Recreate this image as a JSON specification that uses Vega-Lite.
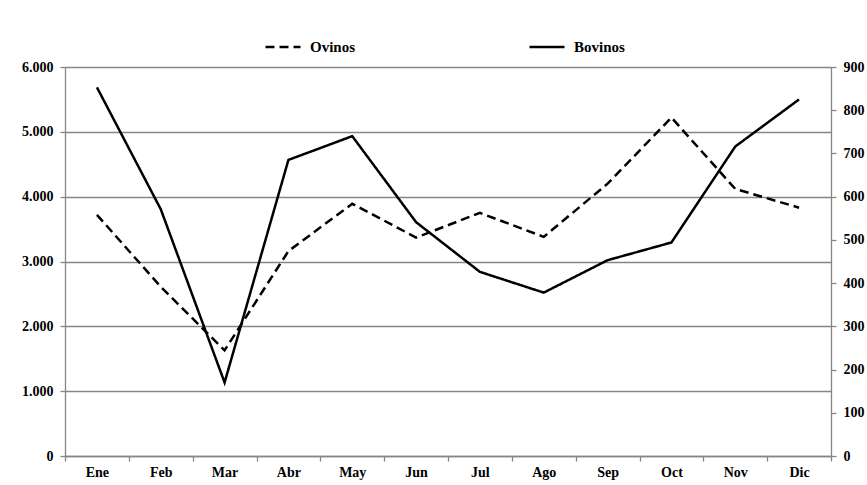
{
  "$schema": "https://vega.github.io/schema/vega-lite/v6.json",
  "width": 766,
  "height": 389,
  "autosize": {"type": "none"},
  "padding": {"left": 65, "top": 67, "right": 36, "bottom": 29},
  "background": "white",
  "config": {
    "view": {"stroke": null},
    "font": "'Liberation Serif', serif",
    "axis": {
      "labelFont": "'Liberation Serif', serif",
      "labelFontWeight": "bold",
      "labelFontSize": 14,
      "labelColor": "black",
      "domainColor": "#868686",
      "tickColor": "#868686",
      "gridColor": "#868686",
      "domainWidth": 1.3,
      "tickWidth": 1.3,
      "gridWidth": 1.3,
      "tickSize": 5,
      "title": null
    }
  },
  "data": {
    "values": [
      {"mes": "Ene", "serie": "Ovinos", "valor": 3720},
      {"mes": "Feb", "serie": "Ovinos", "valor": 2610},
      {"mes": "Mar", "serie": "Ovinos", "valor": 1630},
      {"mes": "Abr", "serie": "Ovinos", "valor": 3160},
      {"mes": "May", "serie": "Ovinos", "valor": 3890},
      {"mes": "Jun", "serie": "Ovinos", "valor": 3370},
      {"mes": "Jul", "serie": "Ovinos", "valor": 3750},
      {"mes": "Ago", "serie": "Ovinos", "valor": 3380},
      {"mes": "Sep", "serie": "Ovinos", "valor": 4200},
      {"mes": "Oct", "serie": "Ovinos", "valor": 5220},
      {"mes": "Nov", "serie": "Ovinos", "valor": 4120},
      {"mes": "Dic", "serie": "Ovinos", "valor": 3830},
      {"mes": "Ene", "serie": "Bovinos", "valor": 853},
      {"mes": "Feb", "serie": "Bovinos", "valor": 571},
      {"mes": "Mar", "serie": "Bovinos", "valor": 170},
      {"mes": "Abr", "serie": "Bovinos", "valor": 685},
      {"mes": "May", "serie": "Bovinos", "valor": 740},
      {"mes": "Jun", "serie": "Bovinos", "valor": 541},
      {"mes": "Jul", "serie": "Bovinos", "valor": 426},
      {"mes": "Ago", "serie": "Bovinos", "valor": 378},
      {"mes": "Sep", "serie": "Bovinos", "valor": 453},
      {"mes": "Oct", "serie": "Bovinos", "valor": 494},
      {"mes": "Nov", "serie": "Bovinos", "valor": 716},
      {"mes": "Dic", "serie": "Bovinos", "valor": 825}
    ]
  },
  "encoding": {
    "x": {
      "field": "mes",
      "type": "ordinal",
      "sort": ["Ene", "Feb", "Mar", "Abr", "May", "Jun", "Jul", "Ago", "Sep", "Oct", "Nov", "Dic"],
      "bandPosition": 0.5,
      "scale": {"type": "band", "paddingInner": 0, "paddingOuter": 0},
      "axis": {"labelAngle": 0, "tickBand": "extent", "labelPadding": 4, "grid": false}
    },
    "strokeDash": {
      "field": "serie",
      "type": "nominal",
      "scale": {"domain": ["Ovinos", "Bovinos"], "range": [[9, 5], [1, 0]]},
      "legend": {
        "orient": "none",
        "legendX": 199,
        "legendY": -39,
        "direction": "horizontal",
        "title": null,
        "symbolType": "stroke",
        "symbolSize": 1225,
        "symbolStrokeWidth": 2.5,
        "symbolStrokeColor": "black",
        "labelFont": "'Liberation Serif', serif",
        "labelFontWeight": "bold",
        "labelFontSize": 15,
        "labelColor": "black",
        "labelOffset": 8,
        "columnPadding": 168
      }
    }
  },
  "layer": [
    {
      "transform": [{"filter": "datum.serie === 'Ovinos'"}],
      "mark": {"type": "line", "color": "black", "strokeWidth": 2.5},
      "encoding": {
        "y": {
          "field": "valor",
          "type": "quantitative",
          "scale": {"domain": [0, 6000], "nice": false},
          "axis": {
            "orient": "left",
            "values": [0, 1000, 2000, 3000, 4000, 5000, 6000],
            "labelExpr": "replace(format(datum.value, ','), ',', '.')",
            "grid": true,
            "labelPadding": 7
          }
        }
      }
    },
    {
      "transform": [{"filter": "datum.serie === 'Bovinos'"}],
      "mark": {"type": "line", "color": "black", "strokeWidth": 2.5},
      "encoding": {
        "y": {
          "field": "valor",
          "type": "quantitative",
          "scale": {"domain": [0, 900], "nice": false},
          "axis": {
            "orient": "right",
            "values": [0, 100, 200, 300, 400, 500, 600, 700, 800, 900],
            "format": "d",
            "grid": false,
            "labelPadding": 7
          }
        }
      }
    }
  ],
  "resolve": {"scale": {"y": "independent"}}
}
